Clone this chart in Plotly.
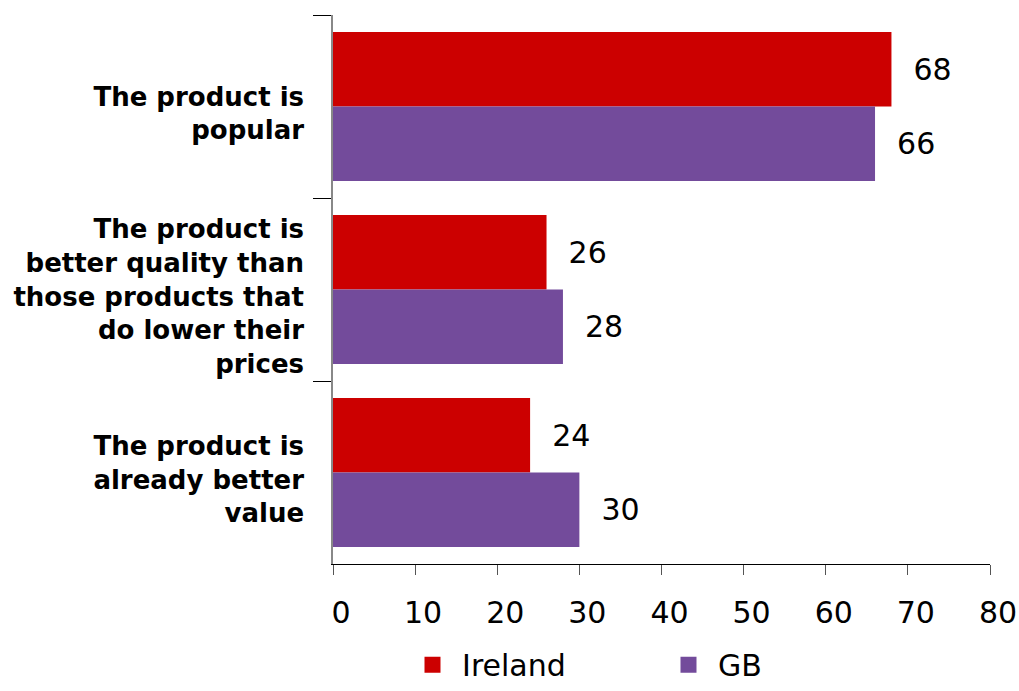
import plotly.graph_objects as go

categories = [
    "The product is<br>popular",
    "The product is<br>better quality than<br>those products that<br>do lower their<br>prices",
    "The product is<br>already better<br>value",
]
series_names = ["Ireland", "GB"]
ireland = [68, 26, 24]
gb = [66, 28, 30]
x_ticks = [0, 10, 20, 30, 40, 50, 60, 70, 80]

FONT = "DejaVu Sans"
COLORS = {"Ireland": "#CC0000", "GB": "#734B9B"}
NB = "\u00a0\u00a0"

fig = go.Figure()
for name, vals in zip(series_names, [ireland, gb]):
    fig.add_trace(go.Bar(
        y=categories, x=vals, orientation="h", name=name, showlegend=False,
        marker=dict(color=COLORS[name], line=dict(width=0)),
        texttemplate=NB + "%{x}", textposition="outside",
        textfont=dict(family=FONT, size=30, color="#000000"), cliponaxis=False,
    ))
# legend entries with large square swatches
for name in series_names:
    fig.add_trace(go.Scatter(
        x=[None], y=[None], mode="markers", name="\u00a0" + name,
        marker=dict(symbol="square", size=22, color=COLORS[name]),
        showlegend=True,
    ))

fig.update_layout(
    width=1019, height=691,
    margin=dict(l=333, r=29, t=15, b=127, autoexpand=False),
    paper_bgcolor="white", plot_bgcolor="white",
    barmode="group", bargap=0.186, bargroupgap=0,
    font=dict(family=FONT, color="#000000"),
    showlegend=True,
    legend=dict(
        orientation="h", x=0.121, xanchor="left", y=-0.136, yanchor="top",
        font=dict(family=FONT, size=30, color="#000000"),
        entrywidth=211, entrywidthmode="pixels", itemsizing="trace",
        itemwidth=30, traceorder="normal", bgcolor="rgba(0,0,0,0)",
    ),
    xaxis=dict(
        range=[0, 80], tickvals=x_ticks, ticktext=[str(v) for v in x_ticks],
        showgrid=False, zeroline=False, automargin=False,
        showline=True, linecolor="#000000", linewidth=1,
        ticks="outside", ticklen=10, tickcolor="#555555", tickwidth=1,
        tickfont=dict(family=FONT, size=30, color="#000000"),
        ticklabelshift=8, ticklabelstandoff=12,
    ),
    yaxis=dict(
        autorange="reversed", type="category", automargin=False,
        showgrid=False, zeroline=False,
        showline=True, linecolor="#888888", linewidth=1.5,
        ticks="outside", ticklen=18, tickcolor="#000000", tickwidth=1,
        tickson="boundaries",
        tickfont=dict(family=FONT, size=26, color="#000000", weight="bold"),
        ticklabelstandoff=22, ticklabelshift=-7,
    ),
)

fig.write_html(
    "out.html",
    config={"displayModeBar": False},
    post_script="document.body.style.margin='0';document.body.style.overflow='hidden';",
)
